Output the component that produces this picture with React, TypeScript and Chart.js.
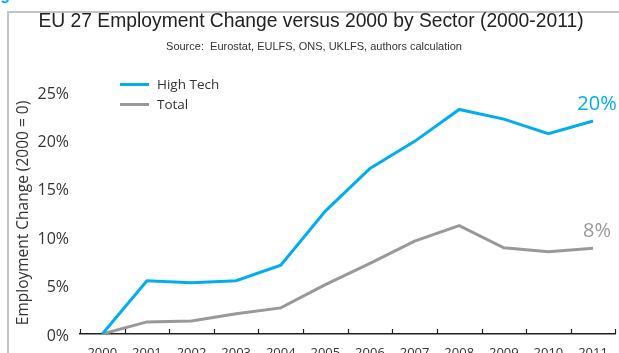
import React, { useEffect, useRef } from "react";
import { Chart, registerables } from "chart.js";

Chart.register(...registerables);

const years = ["2000", "2001", "2002", "2003", "2004", "2005", "2006", "2007", "2008", "2009", "2010", "2011"];
const highTech = [0, 5.5, 5.3, 5.5, 7.1, 12.7, 17.1, 19.9, 23.2, 22.2, 20.7, 22.0];
const total = [0, 1.25, 1.35, 2.1, 2.7, 5.1, 7.3, 9.6, 11.2, 8.9, 8.5, 8.85];
const endLabels = ["20%", "8%"];
const seriesNames = ["High Tech", "Total"];
const colors = ["#00AEEF", "#999999"];

const W = 619;
const H = 372;
const SANS = "'Open Sans', 'Noto Sans', sans-serif";

export default function App() {
  const ref = useRef<HTMLCanvasElement | null>(null);

  useEffect(() => {
    const canvas = ref.current;
    if (!canvas) return;

    const overlay = {
      id: "overlay",
      afterDatasetsDraw(chart: any) {
        const ctx = chart.ctx;
        const area = chart.chartArea;
        const xs = chart.scales.x;
        const ys = chart.scales.y;
        ctx.save();
        ctx.strokeStyle = "#222";
        ctx.lineWidth = 1.2;
        const n = years.length;
        const step = (area.right - area.left) / n;
        for (let i = 0; i <= n; i++) {
          const x = Math.round(area.left + i * step) + 0.5;
          ctx.beginPath();
          ctx.moveTo(x, area.bottom);
          ctx.lineTo(x, area.bottom - 5);
          ctx.stroke();
        }
        ctx.font = `13.5px ${SANS}`;
        ctx.textBaseline = "middle";
        ctx.textAlign = "left";
        seriesNames.forEach((name, i) => {
          const y = 84.5 + i * 20;
          ctx.strokeStyle = colors[i];
          ctx.lineWidth = 3;
          ctx.beginPath();
          ctx.moveTo(120, y);
          ctx.lineTo(149, y);
          ctx.stroke();
          ctx.fillStyle = "#333";
          ctx.fillText(name, 157, y + 0.5);
        });
        ctx.font = `20px ${SANS}`;
        ctx.textAlign = "center";
        const series = [highTech, total];
        series.forEach((arr, i) => {
          const last = arr.length - 1;
          const x = xs.getPixelForValue(last);
          const y = ys.getPixelForValue(arr[last]);
          ctx.fillStyle = colors[i];
          ctx.fillText(endLabels[i], x + 4, y - 17);
        });
        ctx.restore();
      },
    };

    const chart = new Chart(canvas, {
      type: "line",
      data: {
        labels: years,
        datasets: [
          {
            label: seriesNames[0],
            data: highTech,
            borderColor: colors[0],
            backgroundColor: colors[0],
            borderWidth: 3,
            pointRadius: 0,
            tension: 0,
          },
          {
            label: seriesNames[1],
            data: total,
            borderColor: colors[1],
            backgroundColor: colors[1],
            borderWidth: 3,
            pointRadius: 0,
            tension: 0,
          },
        ],
      },
      options: {
        animation: false,
        responsive: false,
        layout: { padding: { top: 92, right: 2, left: 0, bottom: 0 } },
        plugins: {
          legend: { display: false },
          title: { display: false },
          tooltip: { enabled: false },
        },
        scales: {
          x: {
            offset: true,
            grid: { display: false, drawTicks: false },
            border: { display: true, color: "#222", width: 1.5 },
            ticks: { font: { family: SANS, size: 13 }, color: "#333", padding: 11, maxRotation: 0 },
            afterFit: (s: any) => {
              s.height = H - 334;
            },
          },
          y: {
            min: 0,
            max: 25,
            grid: { display: false, drawTicks: false },
            border: { display: false },
            ticks: {
              stepSize: 5,
              font: { family: SANS, size: 16 },
              color: "#333",
              padding: 11,
              labelOffset: 2,
              callback: (v: any) => v + "%",
            },
            title: {
              display: true,
              text: "Employment Change (2000 = 0)",
              font: { family: SANS, size: 15.5 },
              color: "#333",
              padding: { top: 14, bottom: 0 },
            },
            afterFit: (s: any) => {
              s.width = 80;
            },
          },
        },
      },
      plugins: [overlay],
    });
    return () => chart.destroy();
  }, []);

  return (
    <div
      style={{
        position: "fixed",
        left: 0,
        top: 0,
        width: W,
        height: 353,
        overflow: "hidden",
        background: "#fff",
      }}
    >
      <div
        style={{
          position: "absolute",
          left: 0,
          top: -13,
          color: "#00AEEF",
          fontFamily: "'Liberation Sans', Arial, sans-serif",
          fontWeight: "bold",
          fontSize: 16,
          lineHeight: "16px",
        }}
      >
        g
      </div>
      <div
        style={{
          position: "absolute",
          left: 7,
          top: 11,
          width: 700,
          height: 500,
          borderTop: "2px solid #c4c4c4",
          borderLeft: "2px solid #c4c4c4",
        }}
      />
      <canvas
        ref={ref}
        width={W}
        height={H}
        style={{ position: "absolute", left: 0, top: 0, width: W, height: H }}
      />
      <div
        style={{
          position: "absolute",
          left: 0,
          width: 622,
          top: 9,
          textAlign: "center",
          fontFamily: "'Liberation Sans', Arial, sans-serif",
          fontSize: 19.3,
          lineHeight: "24px",
          color: "#222",
        }}
      >
        EU 27 Employment Change versus 2000 by Sector (2000-2011)
      </div>
      <div
        style={{
          position: "absolute",
          left: 0,
          width: 628,
          top: 39,
          textAlign: "center",
          fontFamily: "'Liberation Sans', Arial, sans-serif",
          fontSize: 11,
          lineHeight: "14px",
          color: "#333",
        }}
      >
        Source:&nbsp; Eurostat, EULFS, ONS, UKLFS, authors calculation
      </div>
    </div>
  );
}
